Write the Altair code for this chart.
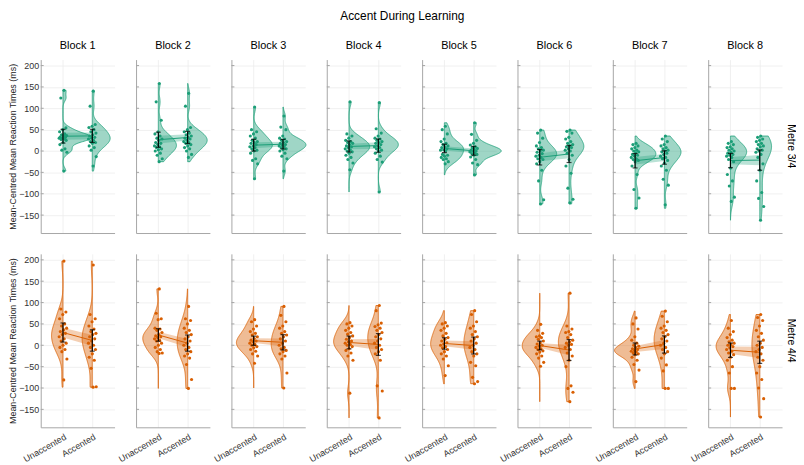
import altair as alt
import pandas as pd

CONDITIONS = ["Unaccented", "Accented"]
BLOCKS = [1, 2, 3, 4, 5, 6, 7, 8]
METRES = ["3/4", "4/4"]
Y_TICKS = [-150, -100, -50, 0, 50, 100, 150, 200]
COLORS = {"3/4": "#1b9e77", "4/4": "#d95f02"}
YTITLE = "Mean-Centred Mean Reaction Times (ms)"

# participant mean-centred RTs (ms), one list per block
M34_UNACC = [
    [142, 124, 54, 50, 45, 40, 38, 36, 35, 33, 32, 30, 30, 28, 27, 25, 20, 15, 5, 2, -3, -47],
    [158, 115, 72, 45, 40, 35, 30, 28, 25, 20, 18, 15, 12, 10, 8, 5, 3, 0, -5, -10, -18, -25],
    [103, 50, 45, 40, 35, 30, 25, 22, 20, 18, 15, 12, 10, 8, 5, 2, 0, -5, -18, -22, -30, -65],
    [115, 40, 35, 30, 25, 22, 20, 18, 15, 12, 10, 8, 5, 3, 0, -2, -5, -10, -15, -20, -28, -44],
    [58, 50, 40, 28, 22, 18, 15, 12, 10, 8, 5, 3, 2, 0, -8, -10, -12, -15, -18, -20, -25, -30],
    [49, 42, 30, 20, 12, 8, 5, 2, 0, -3, -6, -10, -12, -15, -18, -20, -25, -30, -45, -70, -114, -124],
    [18, 15, 12, 8, 5, 2, 0, -2, -5, -8, -10, -12, -15, -18, -20, -22, -25, -35, -55, -90, -110, -134],
    [22, 18, 15, 10, 8, 5, 2, 0, -3, -5, -8, -10, -12, -15, -20, -25, -40, -55, -70, -82, -108, -118],
]
M34_ACC = [
    [140, 105, 62, 58, 55, 50, 45, 42, 38, 35, 32, 30, 28, 25, 22, 20, 18, 12, 8, 2, -13, -35],
    [135, 105, 55, 50, 45, 42, 38, 35, 32, 30, 28, 25, 22, 20, 18, 15, 12, 8, 5, 0, -8, -15],
    [82, 56, 50, 35, 30, 28, 25, 22, 20, 18, 15, 14, 12, 10, 8, 5, 3, 0, -5, -12, -18, -47],
    [113, 52, 42, 35, 30, 28, 25, 22, 20, 18, 15, 12, 10, 8, 5, 2, 0, -5, -12, -20, -26, -96],
    [66, 39, 25, 18, 14, 10, 8, 6, 4, 2, 0, 0, -2, -4, -6, -8, -10, -14, -20, -28, -32, -56],
    [49, 46, 42, 32, 28, 22, 18, 15, 12, 10, 8, 5, 2, 0, -5, -10, -20, -35, -52, -87, -113, -121],
    [35, 28, 22, 15, 12, 8, 5, 2, 0, -2, -5, -8, -12, -15, -18, -22, -28, -35, -45, -66, -80, -126],
    [35, 32, 28, 25, 22, 18, 15, 12, 10, 5, 2, 0, -3, -8, -15, -30, -45, -70, -97, -111, -130, -162],
]
M44_UNACC = [
    [197, 85, 78, 72, 62, 50, 45, 40, 36, 32, 28, 25, 20, 15, 10, 5, 0, -5, -10, -15, -32, -81],
    [132, 75, 62, 60, 40, 38, 35, 30, 25, 22, 20, 18, 15, 12, 10, 5, 0, -5, -10, -15, -18, -19],
    [60, 55, 45, 38, 32, 28, 24, 20, 16, 12, 10, 8, 5, 2, 0, -3, -6, -10, -14, -20, -25, -42],
    [53, 50, 45, 40, 35, 30, 26, 22, 18, 14, 10, 8, 5, 2, 0, -3, -8, -12, -18, -25, -35, -112],
    [53, 50, 45, 40, 35, 28, 22, 18, 14, 10, 6, 3, 0, -3, -6, -10, -15, -20, -25, -32, -48, -71],
    [49, 35, 28, 22, 20, 18, 14, 10, 6, 3, 0, -2, -5, -8, -10, -13, -16, -20, -25, -30, -40, -49],
    [64, 50, 38, 20, 12, 5, 0, -2, -5, -8, -10, -12, -14, -16, -18, -20, -22, -28, -35, -45, -58, -85],
    [58, 40, 32, 25, 18, 12, 8, 5, 2, 0, -3, -6, -10, -14, -18, -22, -28, -35, -50, -65, -101, -101],
]
M44_ACC = [
    [188, 72, 62, 55, 45, 38, 32, 28, 25, 20, 15, 10, 5, 0, -5, -10, -20, -28, -35, -54, -97, -98],
    [91, 62, 58, 50, 40, 35, 30, 25, 20, 15, 10, 5, 0, -5, -10, -15, -20, -25, -30, -45, -80, -101],
    [91, 70, 55, 45, 40, 32, 28, 24, 20, 15, 10, 5, 0, -5, -8, -12, -15, -20, -25, -32, -65, -100],
    [93, 81, 52, 48, 44, 40, 35, 30, 25, 20, 15, 10, 5, 0, -5, -10, -15, -20, -35, -95, -107, -170],
    [81, 72, 55, 45, 40, 32, 25, 20, 15, 10, 5, 0, -5, -10, -15, -20, -25, -40, -48, -75, -85, -90],
    [122, 45, 38, 32, 30, 25, 18, 12, 8, 5, 2, 0, -5, -10, -18, -25, -35, -50, -95, -101, -110, -132],
    [80, 68, 55, 45, 40, 35, 30, 25, 20, 15, 10, 5, 0, -5, -10, -15, -20, -30, -46, -60, -101, -101],
    [72, 65, 58, 45, 35, 28, 20, 12, 5, 0, -5, -10, -15, -20, -28, -35, -50, -65, -80, -100, -125, -168],
]

rows = []
for metre, lists in (("3/4", (M34_UNACC, M34_ACC)), ("4/4", (M44_UNACC, M44_ACC))):
    for ci, (cond, blocks) in enumerate(zip(CONDITIONS, lists)):
        for b, vals in zip(BLOCKS, blocks):
            for v in vals:
                rows.append(dict(metre=metre, block=b, cond=cond, pos=ci + 1, value=v))
df = pd.DataFrame(rows)
ticks_df = pd.DataFrame({"t": Y_TICKS})

FONT = "Liberation Sans"
W, H = 74.5, 175
K = 42
ysc = alt.Scale(domain=[-192, 214], nice=False, zero=False)
xsc = alt.Scale(domain=[0.24, 2.76], nice=False, zero=False)


def panel(metre, block, ci, ri):
    color = COLORS[metre]
    side = 1 if metre == "3/4" else -1
    first = ci == 0
    bottom = ri == 1
    yax = alt.Axis(values=Y_TICKS, labels=first, ticks=False, domain=True, grid=True,
                   labelPadding=2, titlePadding=1)
    if bottom:
        xax = alt.Axis(values=[1, 2], labelExpr="datum.value == 1 ? 'Unaccented' : 'Accented'",
                       labelAngle=-30, labelAlign="right", labelBaseline="top", ticks=False,
                       domain=True, grid=True, labelPadding=5)
    else:
        xax = alt.Axis(values=[1, 2], labels=False, ticks=False, domain=True, grid=True)
    ytitle = YTITLE if first else None

    def X(f):
        return alt.X(f, scale=xsc, axis=xax, title=None)

    def Y(f):
        return alt.Y(f, scale=ysc, axis=yax, title=ytitle)

    base = alt.Chart(df).transform_filter(
        f"datum.metre == '{metre}' && datum.block == {block}")

    violin = base.transform_density(
        "value", groupby=["cond", "pos"], as_=["value", "density"]
    ).transform_calculate(
        xe=f"datum.pos + {side} * datum.density * {K}"
    ).mark_area(orient="horizontal", fill=color, fillOpacity=0.42, stroke=color,
                strokeWidth=0.8).encode(
        y=Y("value:Q"), x=X("pos:Q"), x2="xe:Q", detail="cond:N")

    stats = base.transform_aggregate(m="mean(value)", se="stderr(value)", groupby=["pos"])

    ribbon = stats.transform_calculate(
        lo="datum.m - datum.se", hi="datum.m + datum.se"
    ).mark_area(orient="vertical", fill=color, fillOpacity=0.3).encode(
        x=X("pos:Q"), y=Y("lo:Q"), y2="hi:Q")

    pts = base.transform_window(rn="row_number()", groupby=["cond"]).transform_calculate(
        xj="datum.pos + ((datum.rn * 0.618034) % 1 - 0.5) * 0.28"
    ).mark_circle(size=10, opacity=1, color=color).encode(x=X("xj:Q"), y=Y("value:Q"))

    line = stats.mark_line(color=color, strokeWidth=1).encode(x=X("pos:Q"), y=Y("m:Q"))

    ci_stats = stats.transform_calculate(
        lo="datum.m - 1.96 * datum.se", hi="datum.m + 1.96 * datum.se")
    eb = ci_stats.mark_rule(color="black", strokeWidth=1.2).encode(
        x=X("pos:Q"), y=Y("lo:Q"), y2="hi:Q")
    caps = ci_stats.transform_fold(["lo", "hi"], as_=["k", "v"]).mark_tick(
        orient="horizontal", size=5, thickness=1.2, color="black").encode(
        x=X("pos:Q"), y=Y("v:Q"))

    tick_in = alt.Chart(ticks_df).mark_rule(color="#a6a6a6", strokeWidth=1).encode(
        y=Y("t:Q"), x=alt.value(0), x2=alt.value(3))

    layers = [violin, ribbon, pts, line, eb, caps, tick_in]
    if ci == len(BLOCKS) - 1:
        lab = alt.Chart(pd.DataFrame({"lab": [f"Metre {metre}"]})).mark_text(
            angle=90, font=FONT, fontSize=10.5, color="black", align="center",
            baseline="middle").encode(text="lab:N", x=alt.value(W + 9), y=alt.value(H / 2))
        layers.append(lab)
    ch = alt.layer(*layers).properties(width=W, height=H)
    if ri == 0:
        ch = ch.properties(title=alt.TitleParams(f"Block {block}", font=FONT, fontSize=11,
                                                 fontWeight="normal", color="black",
                                                 offset=9, frame="group", anchor="middle"))
    return ch


panels = [panel(metre, b, ci, ri) for ri, metre in enumerate(METRES)
          for ci, b in enumerate(BLOCKS)]

chart = alt.concat(*panels, columns=8, spacing={"row": 21, "column": 21.2}, bounds="flush",
                   title=alt.TitleParams("Accent During Learning", font=FONT, fontSize=12,
                                         fontWeight="normal", color="black",
                                         anchor="middle", offset=17)).properties(
    padding={"left": 0, "right": 0, "top": 0, "bottom": 0}
).configure_view(stroke=None).configure_axis(
    domainColor="#a6a6a6", domainWidth=1, gridColor="#ececec", gridWidth=0.8,
    labelColor="#333333", labelFont=FONT, labelFontSize=9,
    titleFont=FONT, titleFontSize=9, titleFontWeight="normal", titleColor="#222222")

chart.save("out.html", embed_options={"renderer": "svg", "actions": False})
